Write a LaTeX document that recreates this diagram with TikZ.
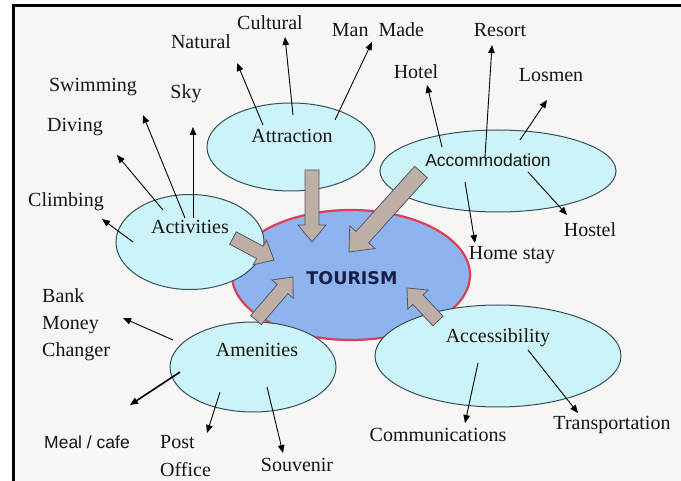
\documentclass[tikz,border=0pt]{standalone}
\usepackage{fontspec}
\setmainfont{Liberation Serif}
\newfontfamily\arialf{Liberation Sans}
\newfontfamily\tourf{DejaVu Sans}
\usetikzlibrary{shapes.geometric,arrows.meta,calc}
\definecolor{bgc}{HTML}{F7F6F4}
\definecolor{ellfill}{HTML}{CCF3F7}
\definecolor{elldraw}{HTML}{34505C}
\definecolor{tfill}{HTML}{8DB4EE}
\definecolor{tdraw}{HTML}{DC3F55}
\definecolor{bafill}{HTML}{BDAFA6}
\definecolor{badraw}{HTML}{55586A}
\definecolor{txt}{HTML}{151515}
\definecolor{navy}{HTML}{1A1E44}
% tail, tip, half shaft, half head, head length
\newcommand\blockarr[5]{%
  \coordinate (bah) at ($(#2)!#5pt!(#1)$);
  \draw[blockarrow] ($(#1)!#3pt!90:(#2)$) -- ($(bah)!#3pt!-90:(#1)$) -- ($(bah)!#4pt!-90:(#1)$) -- (#2) -- ($(bah)!#4pt!90:(#1)$) -- ($(bah)!#3pt!90:(#1)$) -- ($(#1)!#3pt!-90:(#2)$) -- cycle;}
\begin{document}
\begin{tikzpicture}[x=1pt,y=-1pt,
  ell/.style={ellipse, draw=elldraw, fill=ellfill, line width=1pt, inner sep=0pt},
  lbl/.style={text=txt, font=\fontsize{20}{27}\selectfont, inner sep=1pt},
  sa/.style={draw=black, line width=0.9pt, -{Triangle[length=8pt,width=6.5pt]}},
  blockarrow/.style={draw=badraw, fill=bafill, line width=0.8pt, line join=miter}]
\useasboundingbox (0,0) rectangle (681,481);
\fill[white] (0,0) rectangle (681,481);
\fill[bgc] (14,5) rectangle (681,481);
\draw[line width=3.5pt] (13.5,481) -- (13.5,5.5) -- (681,5.5);

% central ellipse
\node[ellipse, draw=tdraw, fill=tfill, line width=2.2pt, inner sep=0pt,
      minimum width=238pt, minimum height=130pt] (tour) at (351,275) {};
% satellite ellipses
\node[ell, minimum width=168pt, minimum height=88pt] (attr) at (291,147) {};
\node[ell, minimum width=236pt, minimum height=82pt] (acco) at (498,171) {};
\node[ell, minimum width=148pt, minimum height=95pt] (acti) at (190,242) {};
\node[ell, minimum width=166pt, minimum height=90pt] (amen) at (253,367) {};
\node[ell, minimum width=246pt, minimum height=102pt] (acce) at (498,356) {};

% block arrows
\coordinate (b1t) at (312,170); \coordinate (b1h) at (312,242);
\coordinate (b2t) at (421,172); \coordinate (b2h) at (349,252);
\coordinate (b3t) at (233,238); \coordinate (b3h) at (274,260);
\coordinate (b4t) at (256,320); \coordinate (b4h) at (293,277);
\coordinate (b5t) at (438,321); \coordinate (b5h) at (407,288);
\blockarr{b1t}{b1h}{7}{14}{17}
\blockarr{b2t}{b2h}{8.5}{17}{20}
\blockarr{b3t}{b3h}{7}{14}{16}
\blockarr{b4t}{b4h}{7}{14}{16}
\blockarr{b5t}{b5h}{7}{14}{16}

% inner labels
\node[text=navy, font=\tourf\bfseries\fontsize{17.5}{20}\selectfont] (tourT) at (352,278) {TOURISM};
\node[lbl] (attrT) at (292,136) {Attraction};
\node[lbl, font=\arialf\fontsize{17.5}{20}\selectfont] (accoT) at (488,160) {Accommodation};
\node[lbl] (actiT) at (190,227) {Activities};
\node[lbl] (amenT) at (257,350) {Amenities};
\node[lbl] (acceT) at (498,338) {Accessibility};

% outer labels
\node[lbl] (natural) at (201,42) {Natural};
\node[lbl] (cultural) at (270,23) {Cultural};
\node[lbl] (manmade) at (378,30) {Man~~Made};
\node[lbl] (swim) at (93,87) {Swimming};
\node[lbl] (sky) at (186,94) {Sky};
\node[lbl] (diving) at (75,127) {Diving};
\node[lbl] (climb) at (66,202) {Climbing};
\node[lbl] (resort) at (500,30) {Resort};
\node[lbl] (hotel) at (416,72) {Hotel};
\node[lbl] (losmen) at (551,75) {Losmen};
\node[lbl] (hostel) at (590,230) {Hostel};
\node[lbl] (home) at (512,255) {Home stay};
\node[lbl] (comm) at (438,435) {Communications};
\node[lbl] (trans) at (612,425) {Transportation};
\node[lbl, align=left, anchor=west] (bank) at (41,325) {Bank\\Money\\Changer};
\node[lbl, font=\arialf\fontsize{17.5}{20}\selectfont] (meal) at (87,442) {Meal / cafe};
\node[lbl, align=left, anchor=west, font=\fontsize{20}{28}\selectfont] (post) at (159,456) {Post\\Office};
\node[lbl] (souv) at (297,465) {Souvenir};

% small arrows
\coordinate (s1) at (263,125); \coordinate (e1) at (237,63);
\coordinate (s2) at (293,115); \coordinate (e2) at (285,37);
\coordinate (s3) at (335,120); \coordinate (e3) at (372,42);
\draw[sa] (s1) -- (e1); \draw[sa] (s2) -- (e2); \draw[sa] (s3) -- (e3);
\coordinate (s4) at (185,218); \coordinate (e4) at (143,115);
\coordinate (s5) at (193,218); \coordinate (e5) at (193,127);
\coordinate (s6) at (163,210); \coordinate (e6) at (117,155);
\coordinate (s7) at (133,242); \coordinate (e7) at (102,219);
\draw[sa] (s4) -- (e4); \draw[sa] (s5) -- (e5); \draw[sa] (s6) -- (e6); \draw[sa] (s7) -- (e7);
\coordinate (s8) at (442,147); \coordinate (e8) at (427,85);
\coordinate (s9) at (485,157); \coordinate (e9) at (492,45);
\coordinate (s10) at (520,140); \coordinate (e10) at (547,100);
\coordinate (s11) at (528,172); \coordinate (e11) at (567,215);
\coordinate (s12) at (465,182); \coordinate (e12) at (475,243);
\draw[sa] (s8) -- (e8); \draw[sa] (s9) -- (e9); \draw[sa] (s10) -- (e10);
\draw[sa] (s11) -- (e11); \draw[sa] (s12) -- (e12);
\coordinate (s13) at (173,340); \coordinate (e13) at (123,318);
\coordinate (s14) at (180,372); \coordinate (e14) at (130,405);
\coordinate (s15) at (220,392); \coordinate (e15) at (207,433);
\coordinate (s16) at (267,387); \coordinate (e16) at (283,453);
\draw[sa] (s13) -- (e13); \draw[sa, line width=1.6pt] (s14) -- (e14);
\draw[sa] (s15) -- (e15); \draw[sa] (s16) -- (e16);
\coordinate (s17) at (478,363); \coordinate (e17) at (465,423);
\coordinate (s18) at (528,350); \coordinate (e18) at (578,413);
\draw[sa] (s17) -- (e17); \draw[sa] (s18) -- (e18);
\end{tikzpicture}
\end{document}
